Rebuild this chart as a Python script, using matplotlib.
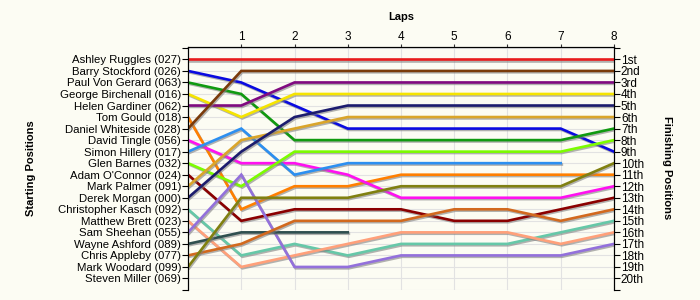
import matplotlib

matplotlib.use("Agg")
import matplotlib.pyplot as plt  # noqa: E402
import matplotlib.patheffects as pe  # noqa: E402

LAPS = list(range(9))
NAMES = [
    "Ashley Ruggles (027)", "Barry Stockford (026)", "Paul Von Gerard (063)",
    "George Birchenall (016)", "Helen Gardiner (062)", "Tom Gould (018)",
    "Daniel Whiteside (028)", "David Tingle (056)", "Simon Hillery (017)",
    "Glen Barnes (032)", "Adam O'Connor (024)", "Mark Palmer (091)",
    "Derek Morgan (000)", "Christopher Kasch (092)", "Matthew Brett (023)",
    "Sam Sheehan (055)", "Wayne Ashford (089)", "Chris Appleby (077)",
    "Mark Woodard (099)", "Steven Miller (069)",
]
FINISH_LABELS = ["1st", "2nd", "3rd"] + [f"{i}th" for i in range(4, 21)]
COLORS = [
    "#e81c1c", "#0a0ae0", "#109a10", "#f5e400", "#800a80", "#ff7f00",
    "#7a3a0a", "#ff10f0", "#2c8ff0", "#7cfc00", "#8b0000", "#daa52a",
    "#1c1c6e", "#66c8a8", "#ffa07a", "#9370db", "#2f4f4f", "#d2691e",
    "#808010", None,
]
# position of each driver (in starting order) after each lap, None = retired
POSITIONS = [
    [1, 1, 1, 1, 1, 1, 1, 1, 1],
    [2, 3, 5, 7, 7, 7, 7, 7, 9],
    [3, 4, 8, 8, 8, 8, 8, 8, 7],
    [4, 6, 4, 4, 4, 4, 4, 4, 4],
    [5, 5, 3, 3, 3, 3, 3, 3, 3],
    [6, 14, 12, 12, 11, 11, 11, 11, 11],
    [7, 2, 2, 2, 2, 2, 2, 2, 2],
    [8, 10, 10, 11, 13, 13, 13, 13, 12],
    [9, 7, 11, 10, 10, 10, 10, 10, None],
    [10, 12, 9, 9, 9, 9, 9, 9, 8],
    [11, 15, 14, 14, 14, 15, 15, 14, 13],
    [12, 8, 7, 6, 6, 6, 6, 6, 6],
    [13, 9, 6, 5, 5, 5, 5, 5, 5],
    [14, 18, 17, 18, 17, 17, 17, 16, 15],
    [15, 19, 18, 17, 16, 16, 16, 17, 16],
    [16, 11, 19, 19, 18, 18, 18, 18, 17],
    [17, 16, 16, 16, None, None, None, None, None],
    [18, 17, 15, 15, 15, 14, 14, 15, 14],
    [19, 13, 13, 13, 12, 12, 12, 12, 10],
    [20, None, None, None, None, None, None, None, None],
]

BG = "#fcfcf3"
plt.rcParams["font.family"] = ["Liberation Sans", "DejaVu Sans"]

fig = plt.figure(figsize=(7, 3), dpi=100, facecolor=BG)
ax = fig.add_axes([0.2686, 0.0333, 0.6085, 0.811], facecolor=BG)

shadow = [pe.SimpleLineShadow(offset=(0.8, -1.0), shadow_color="#808080", alpha=0.6), pe.Normal()]
for pos, color in zip(POSITIONS, COLORS):
    if color is None:
        continue
    xs = [lap for lap, p in zip(LAPS, pos) if p is not None]
    ys = [p for p in pos if p is not None]
    ax.plot(xs, ys, color=color, lw=1.9, solid_joinstyle="miter", path_effects=shadow, zorder=3)

ax.set_xlim(0, 8)
ax.set_ylim(21, -0.1)
ax.set_yticks(range(0, 22))
ax.set_yticklabels([""] + NAMES + [""], fontsize=8.2)
ax.set_xticks(range(1, 9))
ax.set_xticklabels([str(i) for i in range(1, 9)], fontsize=8.5)
ax.xaxis.tick_top()
ax.tick_params(axis="x", length=2, pad=1, color="#333333")
ax.tick_params(axis="y", length=4, pad=1)
ax.grid(True, color="#e2e2e2", lw=0.8, zorder=0)
ax.set_axisbelow(True)
ax.spines["bottom"].set_visible(False)

rax = ax.twinx()
rax.set_ylim(ax.get_ylim())
rax.set_yticks(range(0, 22))
rax.set_yticklabels([""] + FINISH_LABELS + [""], fontsize=8.5)
rax.tick_params(axis="y", length=4, pad=1)
rax.spines["bottom"].set_visible(False)

ax.set_title("Laps", fontsize=8, fontweight="bold", pad=19)
fig.text(0.045, 0.44, "Starting Positions", rotation=90, ha="center", va="center",
         fontsize=8, fontweight="bold")
fig.text(0.953, 0.44, "Finishing Positions", rotation=270, ha="center", va="center",
         fontsize=8, fontweight="bold")

fig.savefig("out.png", dpi=100, facecolor=BG)
